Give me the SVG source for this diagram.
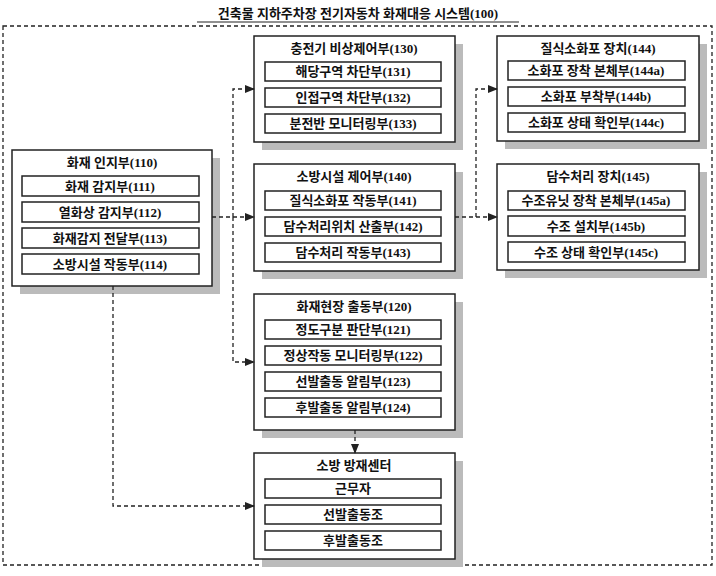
<svg xmlns="http://www.w3.org/2000/svg" width="716" height="576" viewBox="0 0 716 576">
<defs>
<style>
text{font-family:"Liberation Serif","Noto Sans CJK KR",serif;font-weight:bold;font-size:13px;text-anchor:middle;fill:#111}
.box{fill:#fff;stroke:#222;stroke-width:1.5}
.sh{fill:#bbb}
.row{fill:#fff;stroke:#222;stroke-width:1.5}
.dl{fill:none;stroke:#222;stroke-width:1.3;stroke-dasharray:4,3}
</style>
<marker id="ar" markerWidth="10" markerHeight="8" refX="9" refY="4" orient="auto" markerUnits="userSpaceOnUse"><path d="M0,0 L10,4 L0,8 z" fill="#222"/></marker>
</defs>
<rect width="716" height="576" fill="#fff"/>
<text x="358" y="18" font-size="14">건축물 지하주차장 전기자동차 화재대응 시스템(100)</text>
<line x1="197" y1="22" x2="519" y2="22" stroke="#222" stroke-width="1.2"/>
<rect x="3" y="26" width="709" height="539" class="dl"/>

<g id="n110">
<rect x="20" y="158" width="200" height="136" class="sh"/>
<rect x="12" y="150" width="200" height="136" class="box"/>
<text x="112" y="167">화재 인지부(110)</text>
<rect x="22" y="176" width="177" height="20" class="row"/><text x="110" y="191">화재 감지부(111)</text>
<rect x="22" y="202" width="177" height="20" class="row"/><text x="110" y="217">열화상 감지부(112)</text>
<rect x="22" y="228" width="177" height="20" class="row"/><text x="110" y="243">화재감지 전달부(113)</text>
<rect x="22" y="254" width="177" height="20" class="row"/><text x="110" y="269">소방시설 작동부(114)</text>
</g>

<g id="n130">
<rect x="262" y="44" width="201" height="106" class="sh"/>
<rect x="254" y="36" width="201" height="106" class="box"/>
<text x="354" y="53">충전기 비상제어부(130)</text>
<rect x="265" y="62" width="176" height="19" class="row"/><text x="353" y="76">해당구역 차단부(131)</text>
<rect x="265" y="88" width="176" height="19" class="row"/><text x="353" y="102">인접구역 차단부(132)</text>
<rect x="265" y="114" width="176" height="19" class="row"/><text x="353" y="128">분전반 모니터링부(133)</text>
</g>

<g id="n140">
<rect x="262" y="172" width="201" height="107" class="sh"/>
<rect x="254" y="164" width="201" height="107" class="box"/>
<text x="354" y="181">소방시설 제어부(140)</text>
<rect x="265" y="191" width="176" height="19" class="row"/><text x="353" y="205">질식소화포 작동부(141)</text>
<rect x="265" y="217" width="176" height="19" class="row"/><text x="353" y="231">담수처리위치 산출부(142)</text>
<rect x="265" y="243" width="176" height="19" class="row"/><text x="353" y="257">담수처리 작동부(143)</text>
</g>

<g id="n120">
<rect x="262" y="302" width="201" height="136" class="sh"/>
<rect x="254" y="294" width="201" height="136" class="box"/>
<text x="354" y="311">화재현장 출동부(120)</text>
<rect x="265" y="320" width="176" height="19" class="row"/><text x="353" y="334">정도구분 판단부(121)</text>
<rect x="265" y="346" width="176" height="19" class="row"/><text x="353" y="360">정상작동 모니터링부(122)</text>
<rect x="265" y="372" width="176" height="19" class="row"/><text x="353" y="386">선발출동 알림부(123)</text>
<rect x="265" y="398" width="176" height="19" class="row"/><text x="353" y="412">후발출동 알림부(124)</text>
</g>

<g id="n_center">
<rect x="262" y="461" width="201" height="106" class="sh"/>
<rect x="254" y="453" width="201" height="106" class="box"/>
<text x="354" y="470">소방 방재센터</text>
<rect x="265" y="479" width="176" height="19" class="row"/><text x="353" y="493">근무자</text>
<rect x="265" y="505" width="176" height="19" class="row"/><text x="353" y="519">선발출동조</text>
<rect x="265" y="531" width="176" height="19" class="row"/><text x="353" y="545">후발출동조</text>
</g>

<g id="n144">
<rect x="505" y="44" width="202" height="105" class="sh"/>
<rect x="497" y="36" width="202" height="105" class="box"/>
<text x="598" y="53">질식소화포 장치(144)</text>
<rect x="508" y="61" width="177" height="19" class="row"/><text x="596" y="75">소화포 장착 본체부(144a)</text>
<rect x="508" y="87" width="177" height="19" class="row"/><text x="596" y="101">소화포 부착부(144b)</text>
<rect x="508" y="113" width="177" height="19" class="row"/><text x="596" y="127">소화포 상태 확인부(144c)</text>
</g>

<g id="n145">
<rect x="505" y="172" width="202" height="106" class="sh"/>
<rect x="497" y="164" width="202" height="106" class="box"/>
<text x="598" y="181">담수처리 장치(145)</text>
<rect x="508" y="191" width="177" height="19" class="row"/><text x="596" y="205">수조유닛 장착 본체부(145a)</text>
<rect x="508" y="216" width="177" height="20" class="row"/><text x="596" y="231">수조 설치부(145b)</text>
<rect x="508" y="242" width="177" height="20" class="row"/><text x="596" y="257">수조 상태 확인부(145c)</text>
</g>

<g id="connectors">
<path class="dl" d="M212,217 H254" marker-end="url(#ar)"/>
<path class="dl" d="M233,217 V89 H254" marker-end="url(#ar)"/>
<path class="dl" d="M233,217 V362 H254" marker-end="url(#ar)"/>
<path class="dl" d="M455,217 H497" marker-end="url(#ar)"/>
<path class="dl" d="M476,217 V89 H497" marker-end="url(#ar)"/>
<path class="dl" d="M113,286 V506 H254" marker-end="url(#ar)"/>
<path class="dl" d="M355,430 V453" marker-end="url(#ar)"/>
</g>
</svg>
